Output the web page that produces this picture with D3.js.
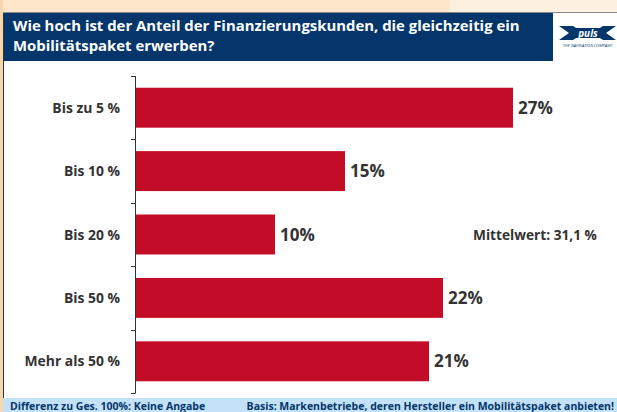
<!DOCTYPE html>
<html>
<head>
<meta charset="utf-8">
<script src="https://cdn.jsdelivr.net/npm/d3@7"></script>
<style>
  html, body { margin: 0; padding: 0; background: #fff; }
  svg { display: block; font-family: "Open Sans", "Noto Sans", sans-serif; }
</style>
</head>
<body>
<svg id="chart" width="617" height="412"></svg>
<script>
// Answer categories and shares (%)
const categories = ["Bis zu 5 %", "Bis 10 %", "Bis 20 %", "Bis 50 %", "Mehr als 50 %"];
const shares = [27, 15, 10, 22, 21];
const valueLabels = ["27%", "15%", "10%", "22%", "21%"];
const titleLines = [
  "Wie hoch ist der Anteil der Finanzierungskunden, die gleichzeitig ein",
  "Mobilitätspaket erwerben?"
];
const meanLabel = "Mittelwert: 31,1 %";
const footnotes = ["Differenz zu Ges. 100%: Keine Angabe", "Basis: Markenbetriebe, deren Hersteller ein Mobilitätspaket anbieten!"];

const W = 617, H = 412;
const svg = d3.select("#chart");

const navy = "#04356b";
const red = "#c30d28";
const textDark = "#333333";

// Page background bands
svg.append("rect").attr("x", 0).attr("y", 0).attr("width", W).attr("height", H).attr("fill", "#fff");
svg.append("rect").attr("x", 0).attr("y", 0).attr("width", 450).attr("height", 13).attr("fill", "#fde6c9");
svg.append("rect").attr("x", 450).attr("y", 0).attr("width", W - 450).attr("height", 13).attr("fill", "#fdf0e1");
svg.append("rect").attr("x", 0).attr("y", 0).attr("width", 3).attr("height", H).attr("fill", "#f8d7ad");
svg.append("line").attr("x1", 3).attr("x2", W).attr("y1", 12.5).attr("y2", 12.5)
  .attr("stroke", "#8a8a8a").attr("stroke-width", 1);
svg.append("line").attr("x1", 3.5).attr("x2", 3.5).attr("y1", 13).attr("y2", 398)
  .attr("stroke", "#333").attr("stroke-width", 1);

// Header
svg.append("rect").attr("x", 4).attr("y", 13).attr("width", 549).attr("height", 48).attr("fill", navy);
svg.append("g").selectAll("text").data(titleLines).join("text")
  .attr("x", 13).attr("y", (d, i) => 31 + i * 20)
  .attr("fill", "#fff").attr("font-weight", "bold").attr("font-size", 14.9)
  .text(d => d);

// Logo
const logo = svg.append("g").attr("transform", "translate(559,26)");
logo.append("path")
  .attr("d", "M0,0 L14,0 L22,5 L36,5 L44,0 L57,0 L47,7 L57,14 L44,14 L36,9 L22,9 L14,14 L0,14 L10,7 Z")
  .attr("fill", navy);
logo.append("rect").attr("x", 12).attr("y", 2).attr("width", 34).attr("height", 10).attr("fill", navy);
logo.append("text").attr("x", 29).attr("y", 11).attr("text-anchor", "middle")
  .attr("fill", "#fff").attr("font-size", 10).attr("font-weight", "bold").attr("font-style", "italic")
  .text("puls");
logo.append("text").attr("x", 28.5).attr("y", 21).attr("text-anchor", "middle")
  .attr("fill", navy).attr("font-size", 4).attr("font-style", "italic")
  .text("THE NAVIGATION COMPANY");

// Scales
const x = d3.scaleLinear().domain([0, 30]).range([135, 555]);
const y = d3.scaleBand().domain(categories).range([76, 393]).paddingInner(0.37).paddingOuter(0.185);

// Bars
svg.append("g").selectAll("rect").data(categories).join("rect")
  .attr("x", x(0)).attr("y", d => y(d))
  .attr("width", (d, i) => x(shares[i]) - x(0)).attr("height", y.bandwidth())
  .attr("fill", red);

// Value labels
svg.append("g").selectAll("text").data(categories).join("text")
  .attr("x", (d, i) => x(shares[i]) + 5)
  .attr("y", d => y(d) + y.bandwidth() / 2)
  .attr("dy", "0.36em")
  .attr("fill", textDark).attr("font-weight", "bold").attr("font-size", 17)
  .text((d, i) => valueLabels[i]);

// Category axis with boundary ticks
const axisG = svg.append("g");
axisG.append("line").attr("x1", 135.5).attr("x2", 135.5).attr("y1", 76).attr("y2", 393)
  .attr("stroke", "#333").attr("stroke-width", 1);
const bounds = categories.map(c => y(c) - y.step() * y.paddingInner() / 2).concat([393]);
bounds[0] = 76;
axisG.selectAll("line.tick").data(bounds).join("line").attr("class", "tick")
  .attr("x1", 131).attr("x2", 135.5)
  .attr("y1", d => Math.round(d) + 0.5).attr("y2", d => Math.round(d) + 0.5)
  .attr("stroke", "#333").attr("stroke-width", 1);
axisG.selectAll("text").data(categories).join("text")
  .attr("x", 120).attr("y", d => y(d) + y.bandwidth() / 2).attr("dy", "0.36em")
  .attr("text-anchor", "end").attr("fill", textDark)
  .attr("font-weight", "bold").attr("font-size", 13.9)
  .text(d => d);

// Mean annotation
svg.append("text").attr("x", 473).attr("y", 240)
  .attr("fill", textDark).attr("font-weight", "bold").attr("font-size", 13.7)
  .text(meanLabel);

// Footer
svg.append("rect").attr("x", 3).attr("y", 398).attr("width", W - 3).attr("height", 14).attr("fill", "#c3e2f7");
svg.append("text").attr("x", 10).attr("y", 410)
  .attr("fill", navy).attr("font-weight", "bold").attr("font-size", 10.5)
  .text(footnotes[0]);
svg.append("text").attr("x", 614).attr("y", 410).attr("text-anchor", "end")
  .attr("fill", navy).attr("font-weight", "bold").attr("font-size", 10.5)
  .text(footnotes[1]);
</script>
</body>
</html>
